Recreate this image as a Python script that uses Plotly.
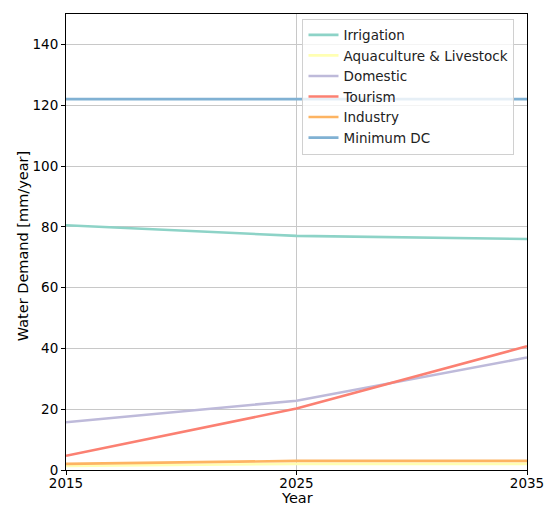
import plotly.graph_objects as go

# Projected water demand by sector (mm/year)
years = [2015, 2025, 2035]
irrigation = [80.5, 77.0, 76.0]
aquaculture_livestock = [1.3, 2.0, 2.0]
domestic = [15.7, 22.8, 37.0]
tourism = [4.7, 20.2, 40.7]
industry = [2.0, 3.0, 3.0]
minimum_dc = [122.0, 122.0, 122.0]

series = [
    ("Irrigation", irrigation, "#8dd3c7"),
    ("Aquaculture & Livestock", aquaculture_livestock, "#ffffb3"),
    ("Domestic", domestic, "#bebada"),
    ("Tourism", tourism, "#fb8072"),
    ("Industry", industry, "#fdb462"),
    ("Minimum DC", minimum_dc, "#80b1d3"),
]

fig = go.Figure()
for name, values, color in series:
    fig.add_trace(go.Scatter(
        x=years, y=values, name=name, mode="lines",
        line=dict(color=color, width=2.6),
    ))

tick_font = dict(family="DejaVu Sans", size=13.5, color="black")
title_font = dict(family="DejaVu Sans", size=14.5, color="black")

fig.update_layout(
    width=549, height=505,
    margin=dict(l=66, r=22, t=14, b=35),
    paper_bgcolor="white", plot_bgcolor="white",
    font=tick_font,
    showlegend=True,
    legend=dict(
        x=0.513, y=0.99, xanchor="left", yanchor="top",
        bgcolor="rgba(255,255,255,0.8)", bordercolor="#d0d0d0", borderwidth=1,
        font=dict(family="DejaVu Sans", size=13.5, color="#222"),
        tracegroupgap=0,
    ),
    xaxis=dict(
        range=[2015, 2035], tickvals=[2015, 2025, 2035],
        showgrid=True, gridcolor="#c8c8c8", gridwidth=1,
        showline=True, linecolor="black", linewidth=1, mirror=True,
        ticks="outside", ticklen=4, tickcolor="black",
        tickfont=tick_font, automargin=False, ticklabelstandoff=-3,
        zeroline=False,
    ),
    yaxis=dict(
        range=[0, 150], tickvals=[0, 20, 40, 60, 80, 100, 120, 140],
        showgrid=True, gridcolor="#c8c8c8", gridwidth=1,
        showline=True, linecolor="black", linewidth=1, mirror=True,
        ticks="outside", ticklen=4, tickcolor="black",
        tickfont=tick_font, automargin=False,
        zeroline=False,
    ),
)

# Axis titles
fig.add_annotation(
    text="Year", xref="paper", yref="paper", x=0.5, y=-0.062,
    xanchor="center", yanchor="middle", showarrow=False, font=title_font,
)
fig.add_annotation(
    text="Water Demand [mm/year]", xref="paper", yref="paper", x=-0.094, y=0.49,
    xanchor="center", yanchor="middle", textangle=-90, showarrow=False, font=title_font,
)

fig.write_html("out.html")
